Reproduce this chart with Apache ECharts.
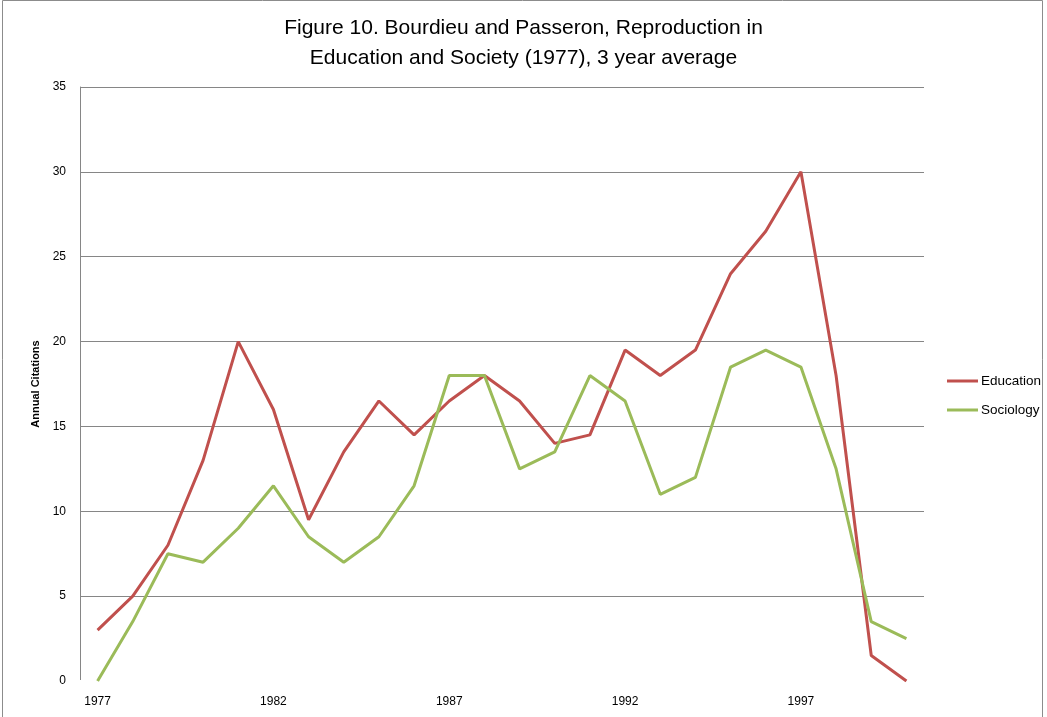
<!DOCTYPE html>
<html>
<head>
<meta charset="utf-8">
<script src="https://cdn.jsdelivr.net/npm/echarts@6/dist/echarts.min.js"></script>
<style>
html,body{margin:0;padding:0;background:#fff;}
#chart{width:1047px;height:717px;}
</style>
</head>
<body>
<div id="chart"></div>
<script>
const years = ['1977','1978','1979','1980','1981','1982','1983','1984','1985','1986','1987','1988','1989','1990','1991','1992','1993','1994','1995','1996','1997','1998','1999','2000'];
const education = [3, 5, 8, 13, 20, 16, 9.5, 13.5, 16.5, 14.5, 16.5, 18, 16.5, 14, 14.5, 19.5, 18, 19.5, 24, 26.5, 30, 18, 1.5, 0];
const sociology = [0, 3.5, 7.5, 7, 9, 11.5, 8.5, 7, 8.5, 11.5, 18, 18, 12.5, 13.5, 18, 16.5, 11, 12, 18.5, 19.5, 18.5, 12.5, 3.5, 2.5];
const yTicks = {min: 0, max: 35, interval: 5};
const titleText = 'Figure 10. Bourdieu and Passeron, Reproduction in\nEducation and Society (1977), 3 year average';

const chart = echarts.init(document.getElementById('chart'));
chart.setOption({
  animation: false,
  backgroundColor: '#fff',
  title: {
    text: titleText,
    left: 'center',
    top: 8,
    textStyle: {
      fontFamily: 'Liberation Sans, Arial, sans-serif',
      fontSize: 21,
      fontWeight: 'normal',
      color: '#000',
      lineHeight: 30
    }
  },
  graphic: [{
    type: 'rect',
    shape: {x: 2.5, y: 0.5, width: 1040, height: 730},
    style: {fill: 'none', stroke: '#8c8c8c', lineWidth: 1},
    silent: true
  }],
  legend: {
    orient: 'vertical',
    left: 947,
    top: 374,
    padding: 0,
    itemWidth: 31,
    itemHeight: 3,
    itemGap: 15,
    icon: 'rect',
    textStyle: {
      fontFamily: 'Liberation Sans, Arial, sans-serif',
      fontSize: 13.5,
      color: '#000',
      padding: [0, 0, 0, -2],
      lineHeight: 14
    },
    data: ['Education', 'Sociology']
  },
  grid: {left: 80, right: 123, top: 87, bottom: 36},
  xAxis: {
    type: 'category',
    data: years,
    boundaryGap: true,
    axisLine: {show: true, lineStyle: {color: '#ffffff', width: 2}},
    axisTick: {show: false},
    axisLabel: {
      interval: 4,
      margin: 15,
      fontFamily: 'Liberation Sans, Arial, sans-serif',
      fontSize: 12,
      color: '#000'
    },
    splitLine: {show: false}
  },
  yAxis: {
    type: 'value',
    min: yTicks.min,
    max: yTicks.max,
    interval: yTicks.interval,
    name: 'Annual Citations',
    nameLocation: 'middle',
    nameRotate: 90,
    nameGap: 37,
    nameTextStyle: {
      fontFamily: 'Liberation Sans, Arial, sans-serif',
      fontSize: 11,
      fontWeight: 'bold',
      color: '#000'
    },
    axisLine: {show: true, lineStyle: {color: '#868686', width: 1}},
    axisTick: {show: false},
    axisLabel: {
      margin: 14,
      fontFamily: 'Liberation Sans, Arial, sans-serif',
      fontSize: 12,
      color: '#000'
    },
    splitLine: {show: true, lineStyle: {color: '#868686', width: 1}}
  },
  series: [{
    name: 'Education',
    type: 'line',
    data: education,
    symbol: 'none',
    lineStyle: {color: '#C0504D', width: 3},
    itemStyle: {color: '#C0504D'}
  }, {
    name: 'Sociology',
    type: 'line',
    data: sociology,
    symbol: 'none',
    lineStyle: {color: '#9BBB59', width: 3},
    itemStyle: {color: '#9BBB59'}
  }]
});
</script>
</body>
</html>
